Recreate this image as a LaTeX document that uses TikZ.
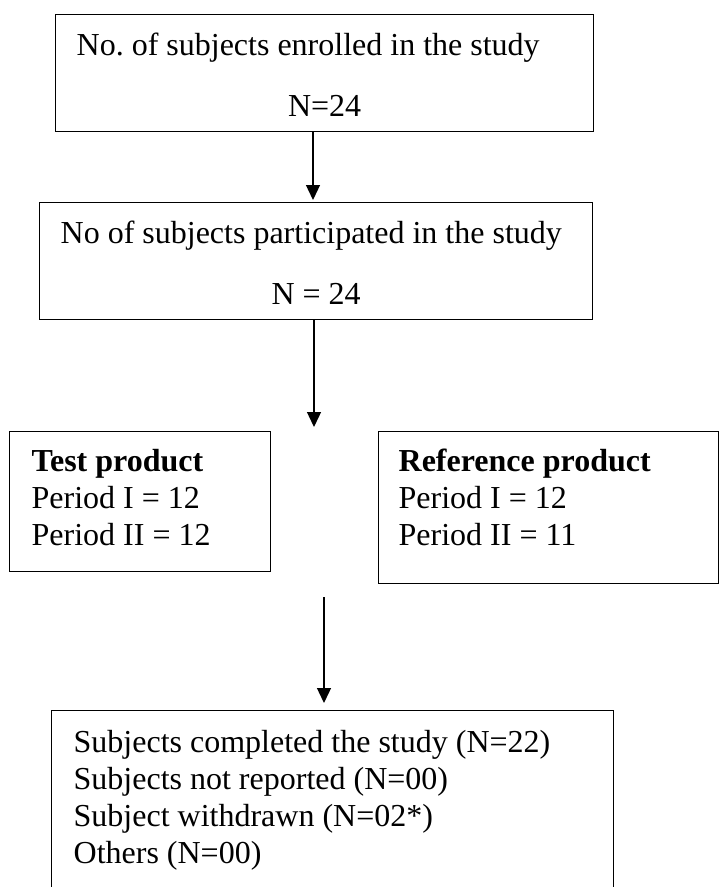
\documentclass[tikz,border=0pt]{standalone}
\usepackage{fontspec}
\setmainfont{Liberation Serif}
\usetikzlibrary{arrows.meta}

\DeclareRobustCommand\flowspace{\spaceskip=0.25em plus 0.1em minus 0.05em\relax
   \xspaceskip=0.25em\relax}

\begin{document}
\begin{tikzpicture}[x=1pt, y=-1pt,
   every node/.style={font=\fontsize{32}{36.8}\selectfont},
   flowbox/.style={draw, line width=1.3pt, anchor=north west, align=left, inner ysep=0pt,
      execute at begin node=\flowspace},
   flowarrow/.style={line width=1.3pt, -{Triangle[width=14pt,length=15pt]}}]

\useasboundingbox (0,0) rectangle (720,887);

\node[flowbox, inner xsep=21pt, text width=496pt, text height=41pt, text depth=76pt]
   (enrolled) at (55,14)
   {No. of subjects enrolled in the study\par\vspace{24.5pt}{\centering N=24\par}};
\node[flowbox, inner xsep=21pt, text width=511pt, text height=40.5pt, text depth=76.5pt]
   (participated) at (39,202)
   {No of subjects participated in the study\par\vspace{24.5pt}{\centering N = 24\par}};

\node[flowbox, inner xsep=22pt, text width=217pt, text height=40pt, text depth=100pt]
   (test) at (9,431)
   {\textbf{Test product}\\Period I = 12\\Period II = 12};
\node[flowbox, inner xsep=20pt, text width=300pt, text height=40pt, text depth=112pt]
   (reference) at (378,431)
   {\textbf{Reference product}\\Period I = 12\\Period II = 11};

% bottom edge lies just below the page
\node[flowbox, inner xsep=22pt, text width=518pt, text height=42pt, text depth=138pt]
   (completed) at (51,710)
   {Subjects completed the study (N=22)\\Subjects not reported (N=00)\\
    Subject withdrawn (N=02*)\\Others (N=00)};

% arrow positions
\coordinate (down1) at (313,0);
\coordinate (split) at (314,427);
\coordinate (merge) at (324,597);

\draw[flowarrow, shorten >=2pt] (enrolled.south -| down1) -- (participated.north -| down1);
\draw[flowarrow] (participated.south -| split) -- (split);
\draw[flowarrow, shorten >=7pt] (merge) -- (completed.north -| merge);

\end{tikzpicture}
\end{document}
